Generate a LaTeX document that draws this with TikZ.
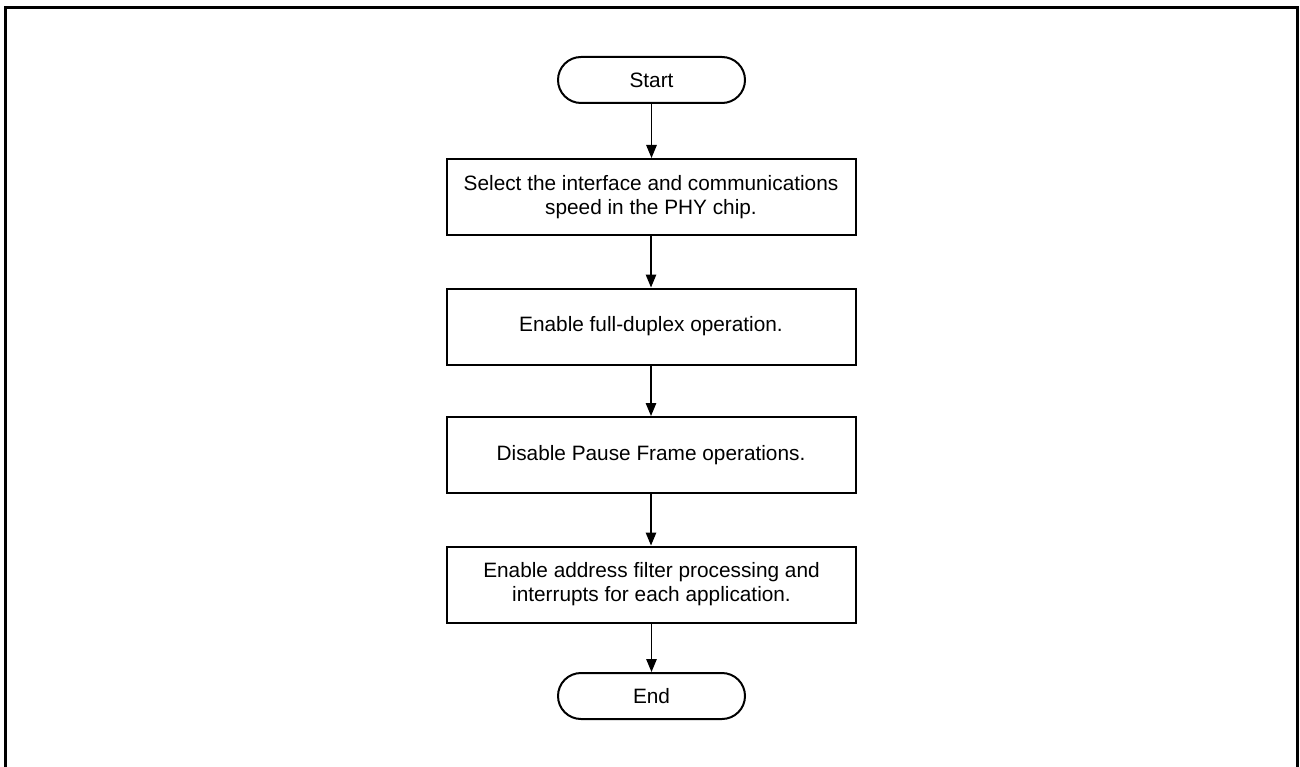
\documentclass[tikz,border=0pt]{standalone}
\usepackage{fontspec}
\setmainfont{Liberation Sans}
\usetikzlibrary{arrows.meta}

\tikzset{
    terminal/.style = {
        draw,
        line width = 2pt,
        rounded corners = 23pt,
        minimum width = 187pt,
        minimum height = 46pt,
        inner sep = 0pt
    },
    process/.style = {
        draw,
        line width = 2pt,
        align = center,
        minimum width = 409pt,
        minimum height = 76pt,
        inner sep = 0pt
    },
    flow/.style = {
        line width = 1.3pt,
        -{Triangle[length=13pt,width=10.5pt]}
    }
}

\begin{document}
\begin{tikzpicture}[x=1pt,y=1pt,font=\fontsize{20.8}{24}\selectfont]
            \useasboundingbox (0,0) rectangle (1300,-767);
            \draw[line width=2.6pt] (5.3,-7.8) rectangle (1297.7,-775);

            \node[terminal] (start) at (651.5,-80) {Start};
            \node[process] (phy) at (651,-197) {Select the interface and communications\\speed in the PHY chip.};
            \node[process] (duplex) at (651,-326.5) {Enable full-duplex operation.};
            \node[process] (pause) at (651,-455) {Disable Pause Frame operations.};
            \node[process] (filter) at (651.5,-584.5) {Enable address filter processing and\\interrupts for each application.};
            \node[terminal] (end) at (651.5,-696) {End};

            \draw[flow] (start) -- (start |- phy.north);
            \draw[flow] (phy) -- (duplex);
            \draw[flow] (duplex) -- (pause);
            \draw[flow] (pause) -- (pause |- filter.north);
            \draw[flow] (filter) -- (end);
        \end{tikzpicture}
\end{document}
